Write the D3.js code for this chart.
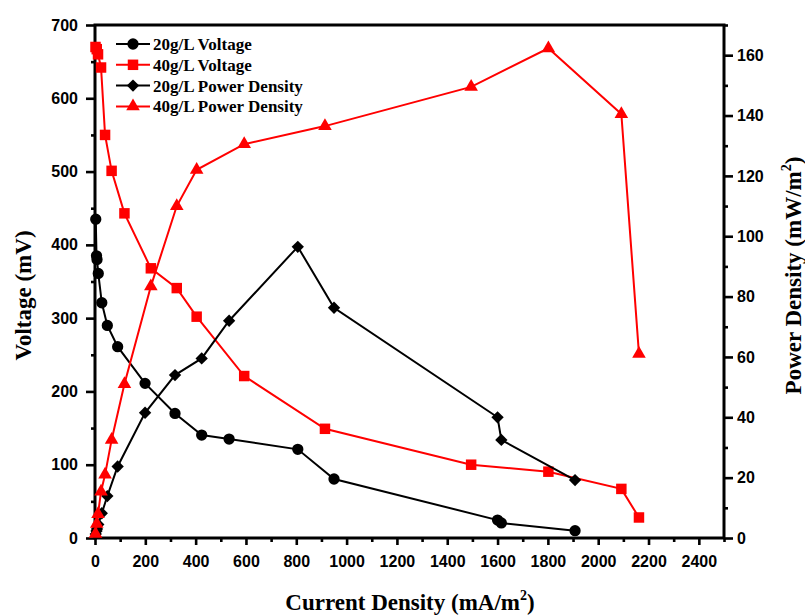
<!DOCTYPE html>
<html>
<head>
<meta charset="utf-8">
<script src="https://cdn.jsdelivr.net/npm/d3@7"></script>
<style>
  body { margin: 0; background: #ffffff; }
  svg { display: block; }
</style>
</head>
<body>
<div id="chart"></div>
<script>
// data
var current20 = [3, 6, 8, 13, 27, 49, 90, 199, 318, 424, 533, 806, 950, 1600, 1615, 1908];
var voltage20 = [435, 385, 380, 361, 321, 290, 261, 211, 170, 140.5, 135, 121, 80.5, 24.5, 20.5, 10];
var power20 = [1.3, 2.3, 3.0, 4.5, 8.2, 13.9, 23.7, 41.5, 54, 59.5, 72, 96.5, 76.3, 40, 32.5, 19.2];

var current40 = [2, 7, 12, 24, 40, 66, 117, 222, 325, 404, 593, 914, 1495, 1802, 2092, 2162];
var voltage40 = [670, 667, 660, 642, 550, 501, 443, 368, 341, 302, 221, 149, 100, 90.5, 67, 28];
var power40 = [1.4, 4.7, 7.9, 15.4, 21, 32.5, 51, 83.4, 110, 122, 130.5, 136.5, 149.5, 162.3, 140.5, 61];

var xTicks = d3.range(0, 2401, 200);
var yLeftTicks = d3.range(0, 701, 100);
var yRightTicks = d3.range(0, 161, 20);

var legendLabels = ["20g/L Voltage", "40g/L Voltage", "20g/L Power Density", "40g/L Power Density"];

var margin = { top: 25, right: 81, bottom: 77, left: 95 };
var width = 805 - margin.left - margin.right;
var height = 615 - margin.top - margin.bottom;

var svg = d3.select("#chart")
    .append("svg")
    .attr("width", 805)
    .attr("height", 615)
    .append("g")
    .attr("transform", "translate(" + margin.left + "," + margin.top + ")");

var x = d3.scaleLinear().domain([0, 2500]).range([0, width]);
var yL = d3.scaleLinear().domain([0, 700]).range([height, 0]);
var yR = d3.scaleLinear().domain([0, 170]).range([height, 0]);

var tickFont = "'Liberation Sans', Arial, sans-serif";
var titleFont = "'Liberation Serif', 'Times New Roman', serif";

function styleAxis(g) {
    g.select(".domain").remove();
    g.selectAll(".tick line").attr("stroke", "#000").attr("stroke-width", 2.6);
    g.selectAll(".tick text")
        .attr("fill", "#000")
        .attr("font-family", tickFont)
        .attr("font-weight", 700)
        .attr("font-size", "16px");
}

// bottom axis
svg.append("g")
    .attr("transform", "translate(0," + height + ")")
    .call(d3.axisBottom(x).tickValues(d3.range(100, 2501, 200)).tickSize(4).tickFormat(""))
    .call(styleAxis);
svg.append("g")
    .attr("transform", "translate(0," + height + ")")
    .call(d3.axisBottom(x).tickValues(xTicks).tickSize(7).tickPadding(11).tickFormat(d3.format("d")))
    .call(styleAxis);

// left axis
svg.append("g")
    .call(d3.axisLeft(yL).tickValues(d3.range(50, 701, 100)).tickSize(4).tickFormat(""))
    .call(styleAxis);
svg.append("g")
    .call(d3.axisLeft(yL).tickValues(yLeftTicks).tickSize(9).tickPadding(8).tickFormat(d3.format("d")))
    .call(styleAxis);

// right axis
svg.append("g")
    .attr("transform", "translate(" + width + ",0)")
    .call(d3.axisRight(yR).tickValues(d3.range(10, 171, 20)).tickSize(4).tickFormat(""))
    .call(styleAxis);
svg.append("g")
    .attr("transform", "translate(" + width + ",0)")
    .call(d3.axisRight(yR).tickValues(yRightTicks).tickSize(9).tickPadding(4).tickFormat(d3.format("d")))
    .call(styleAxis);

// frame
svg.append("rect")
    .attr("x", 0)
    .attr("y", 0)
    .attr("width", width)
    .attr("height", height)
    .attr("fill", "none")
    .attr("stroke", "#000")
    .attr("stroke-width", 3);

// axis titles
var xTitle = svg.append("text")
    .attr("x", 315)
    .attr("y", height + 72)
    .attr("text-anchor", "middle")
    .attr("font-family", titleFont)
    .attr("font-weight", 700)
    .attr("font-size", "23px")
    .text("Current Density (mA/m");
xTitle.append("tspan").attr("font-size", "14px").attr("dy", "-10").text("2");
xTitle.append("tspan").attr("dy", "10").text(")");

svg.append("text")
    .attr("transform", "translate(-64," + (height / 2 + 14) + ") rotate(-90)")
    .attr("text-anchor", "middle")
    .attr("font-family", titleFont)
    .attr("font-weight", 700)
    .attr("font-size", "23px")
    .text("Voltage (mV)");

var rTitle = svg.append("text")
    .attr("transform", "translate(" + (width + 77) + "," + (height / 2 - 6) + ") rotate(-90)")
    .attr("text-anchor", "middle")
    .attr("font-family", titleFont)
    .attr("font-weight", 700)
    .attr("font-size", "23px")
    .text("Power Density (mW/m");
rTitle.append("tspan").attr("font-size", "14px").attr("dy", "-10").text("2");
rTitle.append("tspan").attr("dy", "10").text(")");

// series
var series = [
    { xs: current20, ys: voltage20, scale: yL, color: "#000000", shape: "circle" },
    { xs: current40, ys: voltage40, scale: yL, color: "#ff0000", shape: "square" },
    { xs: current20, ys: power20, scale: yR, color: "#000000", shape: "diamond" },
    { xs: current40, ys: power40, scale: yR, color: "#ff0000", shape: "triangle" }
];

function markerPath(shape) {
    if (shape == "circle") return d3.symbol(d3.symbolCircle, 100)();
    if (shape == "square") return d3.symbol(d3.symbolSquare, 110)();
    if (shape == "diamond") return d3.symbol(d3.symbolSquare, 76)();
    return d3.symbol(d3.symbolTriangle, 80)();
}

function markerTransform(shape, px, py) {
    var tr = "translate(" + px + "," + py + ")";
    if (shape == "diamond") tr += " rotate(45)";
    return tr;
}

var line = d3.line();

series.forEach(function (s) {
    var pts = s.xs.map(function (d, i) { return [x(d), s.scale(s.ys[i])]; });
    svg.append("path")
        .attr("d", line(pts))
        .attr("fill", "none")
        .attr("stroke", s.color)
        .attr("stroke-width", 2);
    svg.append("g").selectAll("path")
        .data(pts)
        .join("path")
        .attr("d", markerPath(s.shape))
        .attr("transform", function (d) { return markerTransform(s.shape, d[0], d[1]); })
        .attr("fill", s.color);
});

// legend
var legend = svg.append("g").attr("transform", "translate(21,19)");
series.forEach(function (s, i) {
    var row = legend.append("g").attr("transform", "translate(0," + (i * 20.8) + ")");
    row.append("line")
        .attr("x1", 0).attr("x2", 34)
        .attr("y1", 0).attr("y2", 0)
        .attr("stroke", s.color)
        .attr("stroke-width", 2);
    row.append("path")
        .attr("d", markerPath(s.shape))
        .attr("transform", markerTransform(s.shape, 17, 0))
        .attr("fill", s.color);
    row.append("text")
        .attr("x", 37)
        .attr("y", 6)
        .attr("font-family", titleFont)
        .attr("font-weight", 700)
        .attr("font-size", "17px")
        .text(legendLabels[i]);
});
</script>
</body>
</html>
